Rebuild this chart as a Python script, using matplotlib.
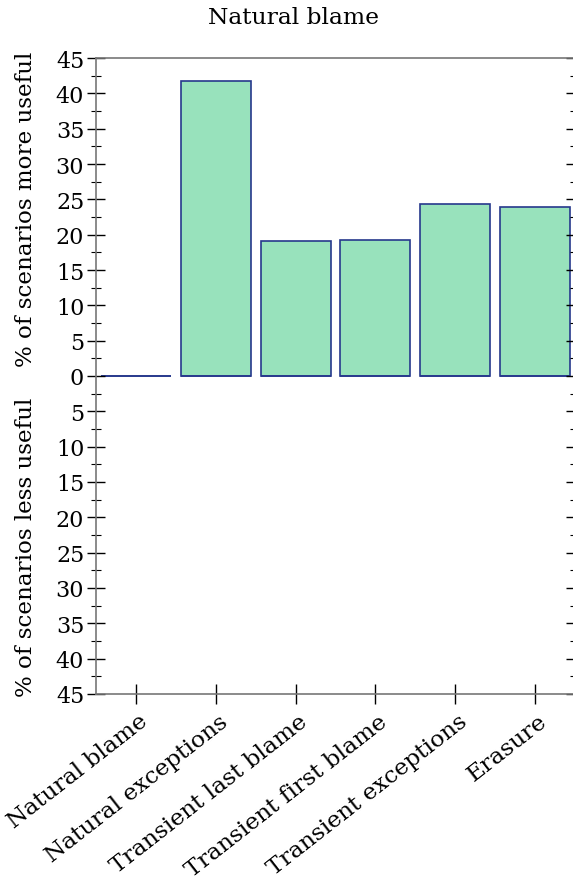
import numpy as np
import matplotlib
matplotlib.use("Agg")
import matplotlib.pyplot as plt
import matplotlib.ticker as ticker
import matplotlib.transforms as mtransforms

CATEGORIES = ["Natural blame", "Natural exceptions", "Transient last blame",
              "Transient first blame", "Transient exceptions", "Erasure"]
MORE_USEFUL = [0.0, 41.7, 19.1, 19.3, 24.3, 23.9]
LESS_USEFUL = [0.0, 0.0, 0.0, 0.0, 0.0, 0.0]

BAR_FILL = "#98e2bc"
BAR_EDGE = "#26388c"
SPINE = "#777777"

plt.rcParams["font.family"] = "DejaVu Serif"

fig = plt.figure(figsize=(5.73, 8.79), dpi=100)
ax = fig.add_axes([96 / 573, 1 - 695 / 879, 479 / 573, 636 / 879])

x = np.arange(len(CATEGORIES))
ax.bar(x, MORE_USEFUL, 0.875, color=BAR_FILL, edgecolor=BAR_EDGE, linewidth=1.2)
ax.bar(x, [-v for v in LESS_USEFUL], 0.875, color=BAR_FILL, edgecolor=BAR_EDGE, linewidth=1.2)

ax.set_xlim(-0.5, 5.5)
ax.set_ylim(-45, 45)

# y axis mirrored around zero, labels show absolute percentages
ax.yaxis.set_major_locator(ticker.MultipleLocator(5))
ax.yaxis.set_minor_locator(ticker.MultipleLocator(2.5))
ax.yaxis.set_major_formatter(ticker.FuncFormatter(lambda v, p: f"{abs(v):.0f}"))
ax.tick_params(axis="y", which="major", direction="inout", length=13, width=1,
               labelsize=16, right=True, pad=2)
ax.tick_params(axis="y", which="minor", direction="inout", length=7, width=0.8, right=True)

ax.set_xticks(x)
ax.set_xticklabels(CATEGORIES, rotation=38, ha="right", va="baseline",
                   rotation_mode="anchor", fontsize=16.8)
ax.tick_params(axis="x", direction="inout", length=14, width=1, pad=14)
shift = mtransforms.ScaledTranslation(13 / 100, 0, fig.dpi_scale_trans)
for lab in ax.get_xticklabels():
    lab.set_transform(lab.get_transform() + shift)

for side in ("top", "bottom", "left"):
    ax.spines[side].set_color(SPINE)
    ax.spines[side].set_linewidth(1.2)
ax.spines["right"].set_visible(False)

fig.text(26 / 573, 1 - 209 / 879, "% of scenarios more useful", rotation=90,
         ha="center", va="center", fontsize=16.6)
fig.text(26 / 573, 1 - 547 / 879, "% of scenarios less useful", rotation=90,
         ha="center", va="center", fontsize=16.6)
fig.text(293 / 573, 1 - 18 / 879, "Natural blame", ha="center", va="center", fontsize=16.8)

fig.savefig("out.png", dpi=100)
